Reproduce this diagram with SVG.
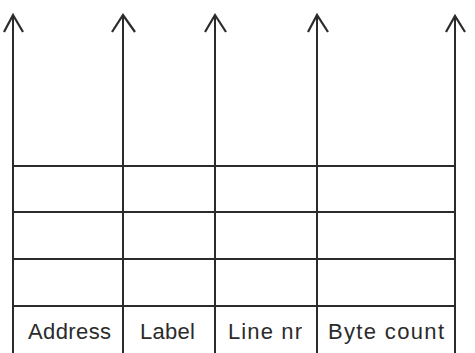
<svg xmlns="http://www.w3.org/2000/svg" width="475" height="353" viewBox="0 0 475 353">
<style>
.ln{stroke:#2b2b2b;stroke-width:2;fill:none;stroke-linecap:butt}
.hd{stroke:#2b2b2b;stroke-width:2.2;fill:none;stroke-linejoin:miter}
.t{font-family:"Liberation Sans",Arial,sans-serif;font-size:22px;fill:#2b2b2b}
</style>
<rect width="475" height="353" fill="#fff"/>
<g id="connectors">
<line class="ln" x1="13" y1="16" x2="13" y2="353"/>
<line class="ln" x1="123" y1="16" x2="123" y2="353"/>
<line class="ln" x1="215" y1="16" x2="215" y2="353"/>
<line class="ln" x1="317" y1="16" x2="317" y2="353"/>
<line class="ln" x1="455" y1="16" x2="455" y2="353"/>
<polyline class="hd" points="4,32 13,15 23,32"/>
<polyline class="hd" points="112,32 123,15 135,32"/>
<polyline class="hd" points="205,32 215,15 226,32"/>
<polyline class="hd" points="308,32 317,15 328,32"/>
<polyline class="hd" points="446,32 455,16 465,32"/>
</g>
<g id="rows">
<line class="ln" x1="13" y1="166" x2="455" y2="166"/>
<line class="ln" x1="13" y1="212" x2="455" y2="212"/>
<line class="ln" x1="13" y1="259" x2="455" y2="259"/>
<line class="ln" x1="13" y1="306" x2="455" y2="306"/>
</g>
<g id="address"><text class="t" x="28" y="339" textLength="83" lengthAdjust="spacing">Address</text></g>
<g id="label"><text class="t" x="140" y="339" textLength="55" lengthAdjust="spacing">Label</text></g>
<g id="linenr"><text class="t" x="228" y="339" textLength="74" lengthAdjust="spacing">Line nr</text></g>
<g id="bytecount"><text class="t" x="328" y="339" textLength="116" lengthAdjust="spacing">Byte count</text></g>
</svg>
